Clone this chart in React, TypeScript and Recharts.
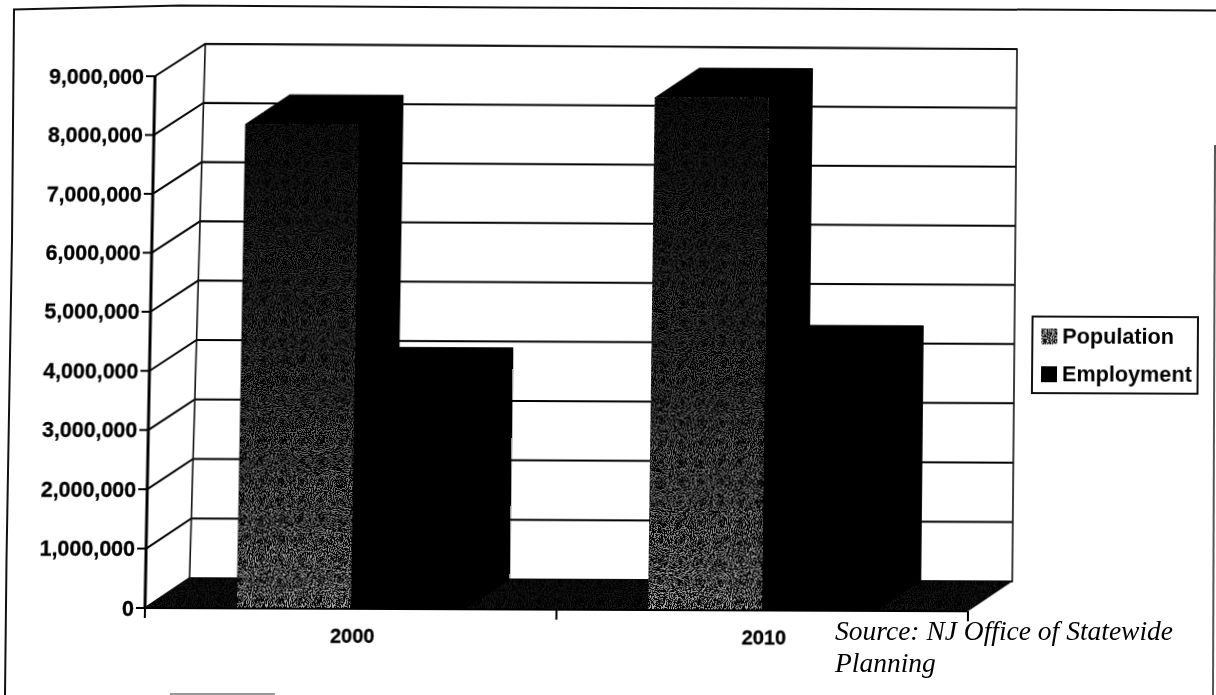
import { Bar, BarChart, CartesianGrid, Legend, ReferenceArea, XAxis, YAxis } from "recharts";

const years = ["2000", "2010"];
const population = [8190000, 8670000];
const employment = [3910000, 4310000];
const valueTicks = [0, 1000000, 2000000, 3000000, 4000000, 5000000, 6000000, 7000000, 8000000, 9000000];

const rows = years.map((year, i) => ({
    year,
    Population: population[i],
    Employment: employment[i],
}));

// oblique offset of the back plane of the 3-D box
const DEPTH_X = 44;
const DEPTH_Y = -30;
const PLOT_TOP = 73;
const PLOT_BOTTOM = 608;

const LABEL_FONT = "'Liberation Sans', Arial, sans-serif";

// left end of a back-wall line; the box opens up slightly towards the top
function backLeft(x: number, y: number) {
    const t = (PLOT_BOTTOM - y) / (PLOT_BOTTOM - PLOT_TOP);
    return [x + DEPTH_X + 6 * t, y + DEPTH_Y - 3 * t];
}

function Box3D(props: any) {
    const { x, y, width, height, fill } = props;
    const right = x + width;
    const bottom = y + height;
    const backTop = y + DEPTH_Y;
    return (
        <g>
            {/* full black silhouette under the front face, so no seam shows at its edges */}
            <polygon
                points={`${x},${y} ${x + DEPTH_X},${backTop} ${right + DEPTH_X},${backTop} ${right + DEPTH_X},${bottom + DEPTH_Y} ${right},${bottom} ${x},${bottom}`}
                fill="#000"
                stroke="#000"
                strokeWidth={0.8}
            />
            <rect x={x} y={y} width={width} height={height} fill={fill} />
            <rect x={x} y={y} width={width} height={height} fill="url(#faceFade)" />
        </g>
    );
}

// back wall outline, floor and category ticks, sized from the plot area
function BoxFrame(props: any) {
    const { x, y, width, height } = props;
    const bottom = y + height;
    const right = x + width;
    const bx = x + DEPTH_X;
    const bxr = right + DEPTH_X;
    const [tlx, tly] = backLeft(x, y);
    const floor = `${x},${bottom} ${right},${bottom} ${bxr},${bottom + DEPTH_Y} ${bx},${bottom + DEPTH_Y}`;
    return (
        <g>
            <polygon
                points={`${tlx},${tly} ${bxr},${y + DEPTH_Y - 1} ${bxr},${bottom + DEPTH_Y} ${bx},${bottom + DEPTH_Y}`}
                fill="none"
                stroke="#111"
                strokeWidth={1.6}
            />
            <polygon points={floor} fill="#000" />
            <polygon points={floor} fill="url(#populationFill)" fillOpacity={0.1} />
            <path
                d={`M${x},${bottom}V${bottom + 10}M${x + width / 2},${bottom}V${bottom + 10}M${right},${bottom}V${bottom + 10}`}
                stroke="#000"
                strokeWidth={2}
            />
        </g>
    );
}

function WallLine(props: any) {
    const { x1, y1, x2 } = props;
    const [lx, ly] = backLeft(x1, y1);
    const t = (PLOT_BOTTOM - y1) / (PLOT_BOTTOM - PLOT_TOP);
    return (
        <path
            key={y1}
            d={`M${x1},${y1}L${lx},${ly}L${x2 + DEPTH_X},${y1 + DEPTH_Y - t}`}
            fill="none"
            stroke="#000"
            strokeWidth={2}
        />
    );
}

function LegendBox({ payload }: any) {
    return (
        <div
            style={{
                boxSizing: "border-box",
                width: 168,
                height: 79,
                border: "2px solid #111",
                background: "#fff",
                padding: "0 0 0 8px",
                fontFamily: LABEL_FONT,
                fontWeight: 700,
                fontSize: 21.7,
                color: "#000",
            }}
        >
            {(payload ?? []).map((entry: any) => (
                <div key={entry.value} style={{ display: "flex", alignItems: "center", height: 38, gap: 5 }}>
                    <svg width={16} height={16}>
                        <rect width={16} height={16} fill={entry.color} />
                    </svg>
                    <span>{entry.value}</span>
                </div>
            ))}
        </div>
    );
}

export default function App() {
    return (
        <div
            style={{
                position: "absolute",
                left: 0,
                top: 0,
                width: 1216,
                height: 695,
                overflow: "hidden",
                background: "#fff",
            }}
        >
            {/* outer chart border, top and sides only */}
            <svg width={1216} height={695} style={{ position: "absolute", left: 0, top: 0 }}>
                <polyline
                    points="5,695 6.5,560 12,240 14,9.5 180,5.5 420,7 1216,10.5"
                    fill="none"
                    stroke="#111"
                    strokeWidth={2}
                />
                <polyline points="1215,145 1213,695" fill="none" stroke="#555" strokeWidth={2} />
                <line x1={170} y1={694} x2={275} y2={694} stroke="#999" strokeWidth={2} />
            </svg>

            <div
                style={{
                    position: "absolute",
                    left: 0,
                    top: 0,
                    width: 1216,
                    height: 695,
                    transformOrigin: "145px 608px",
                    transform:
                        "matrix3d(1,0.004,0,0, -0.0188,1,0,-0.0000114, 0,0,1,0, 0,0,0,1)",
                }}
            >
                <BarChart
                    width={1216}
                    height={695}
                    data={rows}
                    margin={{ top: PLOT_TOP, right: 248, bottom: 0, left: 0 }}
                    barSize={114}
                    barGap={0}
                >
                    <defs>
                        <filter id="stipple" x="0" y="0" width="100%" height="100%">
                            <feTurbulence
                                type="fractalNoise"
                                baseFrequency="0.95"
                                numOctaves={1}
                                seed={4}
                                stitchTiles="stitch"
                            />
                            <feColorMatrix values="0 0 0 0 0.8  0 0 0 0 0.8  0 0 0 0 0.8  0 0 0 14 -7" />
                        </filter>
                        <pattern id="populationFill" width={160} height={160} patternUnits="userSpaceOnUse">
                            <rect width={160} height={160} fill="#000" />
                            <rect width={160} height={160} filter="url(#stipple)" />
                        </pattern>
                        <linearGradient id="faceFade" x1="0" y1="0" x2="0" y2="1">
                            <stop offset="0%" stopColor="#000" stopOpacity={0.9} />
                            <stop offset="55%" stopColor="#000" stopOpacity={0.65} />
                            <stop offset="100%" stopColor="#000" stopOpacity={0.2} />
                        </linearGradient>
                    </defs>

                    <ReferenceArea y1={0} y2={9000000} shape={BoxFrame} ifOverflow="visible" />
                    <CartesianGrid vertical={false} horizontal={WallLine} />

                    <XAxis
                        dataKey="year"
                        height={87}
                        tickLine={false}
                        axisLine={{ stroke: "#000", strokeWidth: 2 }}
                        tickMargin={14}
                        interval={0}
                        tick={{
                            fill: "#000",
                            stroke: "#000",
                            strokeWidth: 0.3,
                            dx: 2,
                            fontSize: 20,
                            fontWeight: 700,
                            fontFamily: LABEL_FONT,
                        }}
                    />
                    <YAxis
                        width={145}
                        domain={[0, 9000000]}
                        ticks={valueTicks}
                        interval={0}
                        tickSize={9}
                        tickMargin={2}
                        tickFormatter={(v: number) => v.toLocaleString("en-US")}
                        axisLine={{ stroke: "#000", strokeWidth: 3 }}
                        tickLine={{ stroke: "#000", strokeWidth: 2 }}
                        tick={{
                            fill: "#000",
                            stroke: "#000",
                            strokeWidth: 0.3,
                            fontSize: 21.5,
                            fontWeight: 700,
                            fontFamily: LABEL_FONT,
                        }}
                    />

                    <Legend
                        layout="vertical"
                        align="center"
                        verticalAlign="middle"
                        itemSorter={null}
                        content={LegendBox}
                        wrapperStyle={{ left: 1029, top: 311, width: 168, height: 79 }}
                    />

                    <Bar dataKey="Population" fill="url(#populationFill)" shape={Box3D} isAnimationActive={false} />
                    <Bar dataKey="Employment" fill="#000" shape={Box3D} isAnimationActive={false} />
                </BarChart>
            </div>

            <div
                style={{
                    position: "absolute",
                    left: 835,
                    top: 615,
                    fontFamily: "'Liberation Serif', 'Times New Roman', serif",
                    fontStyle: "italic",
                    fontSize: 27.5,
                    lineHeight: "32px",
                    color: "#000",
                }}
            >
                Source: NJ Office of Statewide
                <br />
                Planning
            </div>
        </div>
    );
}
